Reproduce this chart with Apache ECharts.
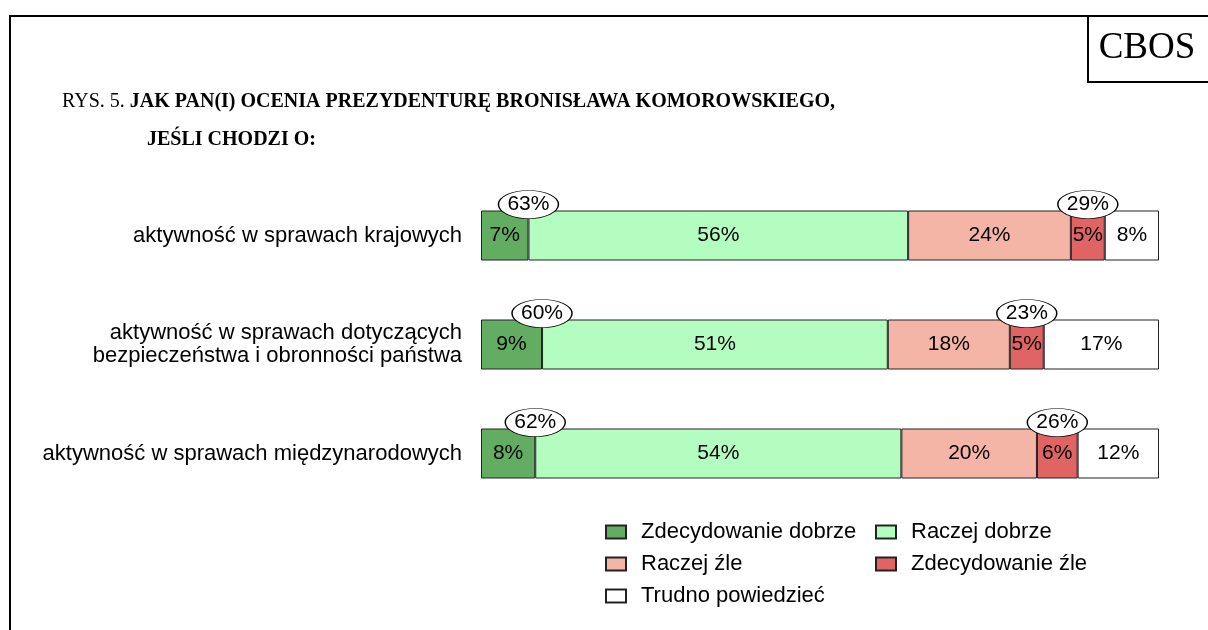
<!DOCTYPE html>
<html>
<head>
<meta charset="utf-8">
<script src="https://cdn.jsdelivr.net/npm/echarts@6/dist/echarts.min.js"></script>
<style>
  html, body { margin: 0; padding: 0; background: #fff; }
  #chart { width: 1208px; height: 630px; }
</style>
</head>
<body>
<div id="chart"></div>
<script>
var categories = [
  'aktywność w sprawach krajowych',
  'aktywność w sprawach dotyczących\nbezpieczeństwa i obronności państwa',
  'aktywność w sprawach międzynarodowych'
];
var zdecDobrze = [7, 9, 8];
var raczejDobrze = [56, 51, 54];
var raczejZle = [24, 18, 20];
var zdecZle = [5, 5, 6];
var trudno = [8, 17, 12];
var sumaDobrze = [63, 60, 62];
var sumaZle = [29, 23, 26];

var names = ['Zdecydowanie dobrze', 'Raczej dobrze', 'Raczej źle', 'Zdecydowanie źle', 'Trudno powiedzieć'];
var colors = ['#63ad63', '#b3fdc0', '#f5b5a6', '#e06464', '#ffffff'];
var values = [zdecDobrze, raczejDobrze, raczejZle, zdecZle, trudno];

var font = 'Liberation Sans, Arial, sans-serif';
var serif = 'Liberation Serif, Times New Roman, serif';

var series = names.map(function (n, i) {
  return {
    name: n,
    type: 'bar',
    stack: 'all',
    barWidth: 50,
    itemStyle: { color: colors[i], borderColor: '#222', borderWidth: 1 },
    label: {
      show: true,
      position: 'inside',
      color: '#000',
      fontSize: 21,
      fontFamily: font,
      formatter: '{c}%'
    },
    data: values[i]
  };
});

// owalne etykiety z sumami
var ellipseData = [];
categories.forEach(function (c, i) {
  ellipseData.push([zdecDobrze[i], i, sumaDobrze[i]]);
  var x = zdecDobrze[i] + raczejDobrze[i] + raczejZle[i] + zdecZle[i] / 2;
  ellipseData.push([x, i, sumaZle[i]]);
});

series.push({
  type: 'scatter',
  z: 5,
  symbol: 'path://M0,10 A10,10 0 1 1 20,10 A10,10 0 1 1 0,10 Z',
  symbolSize: [60, 28],
  symbolOffset: [0, -31],
  itemStyle: { color: '#fff', borderColor: '#000', borderWidth: 1, opacity: 1 },
  label: {
    show: true,
    position: 'inside',
    color: '#000',
    fontSize: 21,
    fontFamily: font,
    formatter: function (p) { return p.value[2] + '%'; }
  },
  silent: true,
  data: ellipseData
});

var chart = echarts.init(document.getElementById('chart'));
chart.setOption({
  backgroundColor: '#fff',
  animation: false,
  grid: { left: 481, right: 49, top: 181, height: 327 },
  xAxis: { type: 'value', min: 0, max: 100, show: false },
  yAxis: {
    type: 'category',
    inverse: true,
    data: categories,
    axisLine: { show: false },
    axisTick: { show: false },
    axisLabel: { color: '#000', fontSize: 22, fontFamily: font, margin: 19, lineHeight: 23 }
  },
  legend: [{
    orient: 'vertical',
    left: 600,
    top: 516,
    itemWidth: 20,
    itemHeight: 13,
    itemGap: 10,
    icon: 'rect',
    textStyle: { color: '#000', fontSize: 22, fontFamily: font, padding: [0, 0, 0, 10] },
    data: ['Zdecydowanie dobrze', 'Raczej źle', 'Trudno powiedzieć']
  }, {
    orient: 'vertical',
    left: 870,
    top: 516,
    itemWidth: 20,
    itemHeight: 13,
    itemGap: 10,
    icon: 'rect',
    textStyle: { color: '#000', fontSize: 22, fontFamily: font, padding: [0, 0, 0, 10] },
    data: ['Raczej dobrze', 'Zdecydowanie źle']
  }],
  graphic: [
    { type: 'line', shape: { x1: 10, y1: 16, x2: 1208, y2: 16 }, style: { stroke: '#000', lineWidth: 2 } },
    { type: 'line', shape: { x1: 10, y1: 15, x2: 10, y2: 630 }, style: { stroke: '#000', lineWidth: 2 } },
    { type: 'line', shape: { x1: 1088, y1: 16, x2: 1088, y2: 82 }, style: { stroke: '#000', lineWidth: 2 } },
    { type: 'line', shape: { x1: 1087, y1: 82, x2: 1208, y2: 82 }, style: { stroke: '#000', lineWidth: 2 } },
    { type: 'text', x: 1147, y: 48, style: { text: 'CBOS', font: '37px ' + serif, fill: '#000', textAlign: 'center', textVerticalAlign: 'middle' } },
    {
      type: 'text', x: 62, y: 102,
      style: {
        text: '{n|RYS. 5. }{b|JAK PAN(I) OCENIA PREZYDENTURĘ BRONISŁAWA KOMOROWSKIEGO,}',
        textVerticalAlign: 'middle',
        rich: {
          n: { fontFamily: serif, fontSize: 20, fill: '#000' },
          b: { fontFamily: serif, fontSize: 20, fontWeight: 'bold', fill: '#000' }
        }
      }
    },
    { type: 'text', x: 147, y: 140, style: { text: 'JEŚLI CHODZI O:', font: 'bold 20px ' + serif, fill: '#000', textVerticalAlign: 'middle' } }
  ],
  series: series
});
</script>
</body>
</html>
